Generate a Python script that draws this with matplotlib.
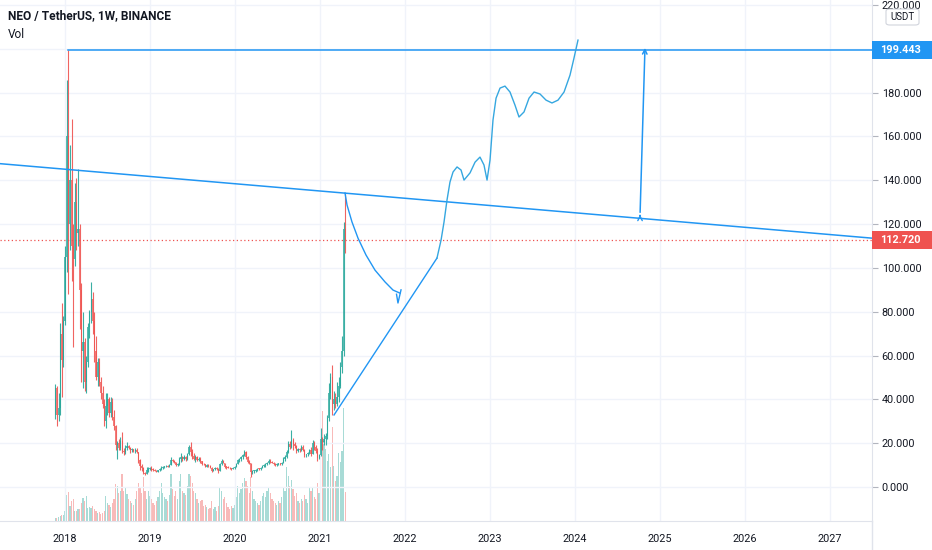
import matplotlib
matplotlib.use("Agg")
import matplotlib.pyplot as plt
import matplotlib.transforms as mtransforms
from matplotlib.patches import Rectangle, FancyBboxPatch
from matplotlib.lines import Line2D
import numpy as np
import pandas as pd

# weekly NEO/USDT candles (open = previous close)
FIRST_WEEK = "2017-11-20"
FIRST_OPEN = 33.0
closes = [45, 33, 36, 70, 58, 76, 105, 160, 120, 140, 110, 104, 130, 116, 118, 90, 62, 66, 48, 57,
          73, 80, 86, 76, 62, 50, 57, 48, 43, 38, 30, 37, 40, 34, 39, 32, 28, 19, 20, 18,
          21, 16.5, 16, 18, 18.8, 18, 16.8, 17.2, 16.3, 16.9, 15.8, 12.5, 9.5, 8.5, 6.5, 5.9, 7.9, 8.3, 8.8, 8.0,
          7.8, 7.5, 7.0, 7.6, 8.2, 8.9, 9.2, 9.4, 9.6, 9.3, 10.2, 12.5, 11.8, 11.4, 9.9, 10.4, 12.8, 13.5, 12.8, 13.8,
          12.9, 15.1, 18.2, 16, 14, 13, 13.6, 12.4, 12.9, 11.8, 10.5, 10.3, 9.2, 9.9, 9.5, 8.9, 7.5, 8.1, 8.8, 8.2,
          7.4, 10.6, 11.8, 11, 9.2, 9.0, 8.8, 8.5, 8.4, 8.7, 9.3, 10.5, 12.4, 12.6, 13.5, 14.5, 15.8, 13.6, 11.6, 10.9,
          6.8, 7.3, 7.5, 7.9, 8.3, 8.1, 8.7, 9.6, 9.9, 10.4, 11.2, 12, 11.5, 11, 10.6, 10.1, 10.4, 10.8, 10.3, 11.2,
          12.9, 13.8, 16.2, 19.8, 18.3, 21.5, 19.5, 18.6, 16.3, 17.5, 16.8, 18.2, 17, 14.4, 14.9, 15.4, 16.8, 15.2, 20, 18.2,
          16.4, 13.2, 14.5, 22, 20.5, 22, 23.3, 31.5, 43, 50, 38, 40, 38, 41, 46, 55, 62, 118, 112.72]
highs = [47, 46, 43, 75, 84, 78, 110, 186, 199.443, 156, 168, 120, 139, 141, 145, 120, 93, 80, 68, 60,
         75, 81, 93.5, 89, 80, 69, 59, 59, 50, 46, 40, 43, 43, 41, 41, 40.6, 35, 28.5, 21, 22,
         23, 25, 18, 19, 20.5, 19.3, 18.5, 17.6, 17.5, 17.8, 17.8, 16.2, 13, 10.5, 9, 7, 9, 9.3, 9.1, 9.5,
         8.5, 8.2, 7.8, 7.8, 8.5, 9.8, 9.6, 9.8, 10, 10, 10.5, 13.7, 13, 12.3, 11.6, 10.8, 13.5, 15.5, 14, 14.5,
         14.2, 15.5, 19, 20.5, 17.5, 15.6, 14.5, 14, 13.5, 13.6, 12, 11, 10.6, 10.3, 10.5, 10, 9, 8.4, 9.2, 9,
         8.5, 11, 13, 12.5, 11.2, 9.8, 9.5, 9, 8.8, 9, 9.6, 11, 13, 13.2, 14, 15, 17, 16.5, 14, 12.4,
         11.2, 7.8, 8, 8.2, 8.8, 8.6, 9, 10, 10.5, 10.8, 11.6, 12.6, 13, 12, 11.3, 11, 10.8, 11.2, 11.1, 11.5,
         13.7, 14.5, 17, 21, 21, 26, 22.5, 20.5, 19, 18, 18, 19, 19.2, 17.3, 15.2, 16, 17.5, 18.5, 21.5, 21,
         19, 18, 15, 27, 23, 24, 24.5, 33, 47.5, 52, 55.6, 44, 43, 48, 50, 57, 69, 121, 134]
lows = [31, 28, 30, 33, 41, 55, 74, 98, 88, 108, 94, 64, 101, 108, 110, 72, 48, 45, 44, 43,
        55, 68, 75, 70, 57, 49, 46, 46, 40, 36, 28, 27, 33, 32, 32, 30.6, 26, 17, 13, 17,
        17, 15.5, 14.6, 15, 17, 17.5, 15.5, 16, 16, 15.5, 15.5, 11, 7.8, 7.2, 6, 5.5, 5.8, 7, 7.6, 7.5,
        7.5, 7.2, 6.7, 6.8, 7.4, 8.0, 8.4, 8.6, 9, 9.1, 9, 10, 11.3, 11, 9.5, 9.6, 10, 11.5, 12, 12.3,
        12, 12.5, 14.8, 14, 13, 12.5, 11.5, 11.8, 11.9, 11.2, 10, 10, 9, 9, 9.3, 8.5, 6.8, 7.2, 7.7, 8,
        6.6, 7.3, 10.2, 10.8, 8.5, 8.2, 8.6, 8.3, 7.8, 8.1, 8.4, 9.1, 10.3, 11.6, 12, 13, 14, 13, 11, 10.6,
        4.6, 6, 6.6, 7, 7.4, 7.7, 7.9, 8.5, 9, 9.2, 10, 10.5, 11, 10.8, 10.2, 9.8, 9.7, 10, 10.1, 10,
        11, 12, 13.3, 15.5, 17.5, 17.8, 17, 18, 15.5, 16, 16.2, 16.5, 16.5, 13.7, 13.5, 14.2, 15, 14, 15, 17,
        15.5, 12, 12.8, 14, 17, 19, 19, 22, 30, 40, 33, 35, 36, 37, 39, 45, 52, 60, 107]
volumes = [3, 3, 4, 5, 6, 6, 10, 26, 29, 15, 20, 22, 10, 10, 12, 12, 18, 23, 20, 25,
           13, 14, 13, 15, 12, 10, 8, 9, 7, 8, 10, 25, 18, 16, 14, 18, 22, 37, 35, 28,
           30, 47, 30, 33, 27, 22, 20, 18, 16, 22, 30, 38, 34, 28, 44, 30, 22, 30, 25, 22,
           18, 16, 20, 24, 30, 38, 28, 24, 22, 20, 26, 47, 32, 25, 30, 22, 40, 47, 30, 28,
           26, 35, 47, 45, 38, 30, 28, 22, 18, 20, 21, 15, 16, 14, 12, 13, 20, 12, 14, 10,
           15, 34, 30, 22, 24, 18, 14, 12, 15, 13, 16, 24, 35, 28, 32, 38, 43, 40, 35, 28,
           44, 30, 22, 20, 18, 16, 20, 25, 28, 24, 30, 34, 28, 22, 20, 18, 16, 20, 18, 24,
           34, 30, 54, 45, 35, 41, 32, 25, 28, 20, 18, 22, 20, 26, 22, 18, 34, 30, 34, 24,
           22, 38, 28, 121, 110, 80, 72, 60, 67, 54, 94, 55, 40, 45, 68, 59, 70, 113, 29]

# hand-drawn annotations (decimal year, price)
trend_years = [2017.235, 2027.494]
trend_prices = [147.6, 113.6]
cup_years = [2021.294, 2021.318, 2021.376, 2021.447, 2021.541, 2021.647, 2021.765, 2021.859, 2021.941]
cup_prices = [134.2, 128.7, 121.0, 113.6, 105.9, 99.0, 93.6, 89.9, 88.5]
hook_years = [2021.900, 2021.917, 2021.953]
hook_prices = [88.0, 84.0, 90.0]
rise_years = [2021.165, 2022.376]
rise_prices = [32.9, 104.5]
wave_years = [2022.376, 2022.424, 2022.459, 2022.494, 2022.529, 2022.565, 2022.612, 2022.659, 2022.694,
              2022.765, 2022.824, 2022.882, 2022.929, 2022.965, 2023.0, 2023.035, 2023.071, 2023.118,
              2023.176, 2023.235, 2023.294, 2023.341, 2023.4, 2023.459, 2023.518, 2023.588, 2023.659,
              2023.729, 2023.8, 2023.871, 2023.941, 2023.988, 2024.035]
wave_prices = [104.5, 112.7, 121.0, 131.0, 139.2, 143.8, 146.1, 144.7, 140.1,
               143.4, 148.3, 150.6, 147.0, 140.1, 149.2, 167.5, 177.5, 182.1,
               183.0, 180.3, 174.3, 168.9, 171.2, 177.5, 180.3, 179.4, 176.6,
               175.3, 176.6, 180.3, 188.0, 195.8, 204.0]
arrow_years = [2024.765, 2024.824]
arrow_prices = [124.1, 201.7]

year_ticks = list(range(2018, 2028))
price_ticks = list(range(0, 240, 20))

UP, DOWN = "#26a69a", "#ef5350"
BLUE = "#2196f3"
TXT = "#131722"
GRID = "#f0f3fa"
FONT = "Roboto"


def dec_year(ts):
    n = 366 if ts.is_leap_year else 365
    return ts.year + (ts.dayofyear - 1) / n


def main():
    plt.rcParams["font.family"] = [FONT, "DejaVu Sans"]
    dates = pd.date_range(FIRST_WEEK, periods=len(closes), freq="W-MON")
    x = np.array([dec_year(d) for d in dates])
    c = np.array(closes, float)
    o = np.concatenate([[FIRST_OPEN], c[:-1]])
    h = np.array(highs, float)
    lo = np.array(lows, float)
    up = c >= o
    col = np.where(up, UP, DOWN)
    wk = 7 / 365.25

    fig = plt.figure(figsize=(9.32, 5.5), dpi=100)
    W, H = 932, 550
    ax_vol = fig.add_axes([0, 29 / H, 872 / W, 521 / H])
    ax = fig.add_axes([0, 29 / H, 872 / W, 521 / H])
    ax.patch.set_visible(False)

    xlim = (2017.235, 2027.494)
    ylim = (-15.5, 222.3)

    # volume
    ax_vol.bar(x, volumes, width=wk * 0.75, color=col, alpha=0.4, linewidth=0)
    ax_vol.set_xlim(*xlim)
    ax_vol.set_ylim(0, max(volumes) * 4.3)
    ax_vol.axis("off")

    # grid
    for yv in price_ticks:
        ax.axhline(yv, color=GRID, linewidth=1, zorder=0)
    for xv in year_ticks:
        ax.axvline(xv, color=GRID, linewidth=1, zorder=0)

    # candles
    ax.vlines(x, lo, h, colors=col, linewidth=0.8, alpha=0.9, zorder=3)
    body = np.maximum(np.abs(c - o), 0.4)
    ax.bar(x, body, bottom=np.minimum(o, c), width=wk * 0.7, color=col, alpha=0.75,
           linewidth=0, zorder=3)

    # last price line
    ax.axhline(c[-1], color=DOWN, linestyle=(0, (1, 2)), linewidth=0.9, zorder=2)

    # drawings
    ath = h.max()
    ath_x = x[int(np.argmax(h))]
    ax.plot([ath_x, xlim[1]], [ath, ath], color=BLUE, linewidth=1.1, zorder=4)
    ax.plot(trend_years, trend_prices, color=BLUE, linewidth=1.1, zorder=4)
    ax.plot(cup_years, cup_prices, color=BLUE, linewidth=1.0, zorder=4)
    ax.plot(hook_years, hook_prices, color=BLUE, linewidth=1.0, zorder=4)
    ax.plot(rise_years, rise_prices, color=BLUE, linewidth=1.0, zorder=4)
    ax.plot(wave_years, wave_prices, color="#35a7e0", linewidth=1.0, zorder=4)
    ax.annotate("", xy=(arrow_years[1], arrow_prices[1]), xytext=(arrow_years[0], arrow_prices[0]),
                arrowprops=dict(arrowstyle="->", color=BLUE, lw=1.1, mutation_scale=8), zorder=4)
    ax.annotate("", xy=(arrow_years[0], arrow_prices[0] + 1.5), xytext=(arrow_years[0], arrow_prices[0] - 1.5),
                arrowprops=dict(arrowstyle="->", color=BLUE, lw=1.0, mutation_scale=8), zorder=4)

    ax.set_xlim(*xlim)
    ax.set_ylim(*ylim)

    # axes styling
    for s in ["top", "left"]:
        ax.spines[s].set_visible(False)
    for s in ["right", "bottom"]:
        ax.spines[s].set_color("#e0e3eb")
    ax.yaxis.tick_right()
    ax.set_yticks(price_ticks)
    ax.set_yticklabels(["" if v == 200 else f"{v:.3f}" for v in price_ticks])
    ax.tick_params(axis="y", length=4, color="#b2b5be", pad=3, labelsize=7.8, labelcolor=TXT)
    ax.set_xticks(year_ticks)
    ax.set_xticklabels([str(v) for v in year_ticks])
    ax.tick_params(axis="x", length=0, pad=9, labelsize=7.8, labelcolor=TXT)
    fig.add_artist(Line2D([872 / W, 872 / W], [0, 29 / H], color="#e0e3eb", linewidth=1))

    # price labels on the axis
    tr = mtransforms.blended_transform_factory(fig.transFigure, ax.transData)
    box_h = 18 / 2.191
    for val, fc in [(ath, BLUE), (c[-1], DOWN)]:
        fig.add_artist(Rectangle((872 / W, val - box_h / 2), 60 / W, box_h, transform=tr,
                                 facecolor=fc, edgecolor="none", clip_on=False, zorder=10))
        fig.text(880 / W, val, f"{val:.3f}", transform=tr, color="white", fontsize=7.8,
                 fontweight="bold", va="center", ha="left", zorder=11)

    # currency badge
    fig.add_artist(FancyBboxPatch((886 / W, 1 - 25 / H), 33 / W, 16 / H,
                                  boxstyle="round,pad=0,rounding_size=0.004",
                                  transform=fig.transFigure, facecolor="white",
                                  edgecolor="#d1d4dc", linewidth=0.8, zorder=10))
    fig.text(902.5 / W, 1 - 17 / H, "USDT", color=TXT, fontsize=7, ha="center", va="center", zorder=11)

    # legend text
    fig.text(8 / W, 1 - 16 / H, "NEO / TetherUS, 1W, BINANCE", color=TXT, fontsize=8.6,
             fontweight="bold", va="center", ha="left")
    fig.text(8 / W, 1 - 34 / H, "Vol", color=TXT, fontsize=8.6, va="center", ha="left")

    fig.savefig("out.png", dpi=100)
    plt.close(fig)


if __name__ == "__main__":
    main()
